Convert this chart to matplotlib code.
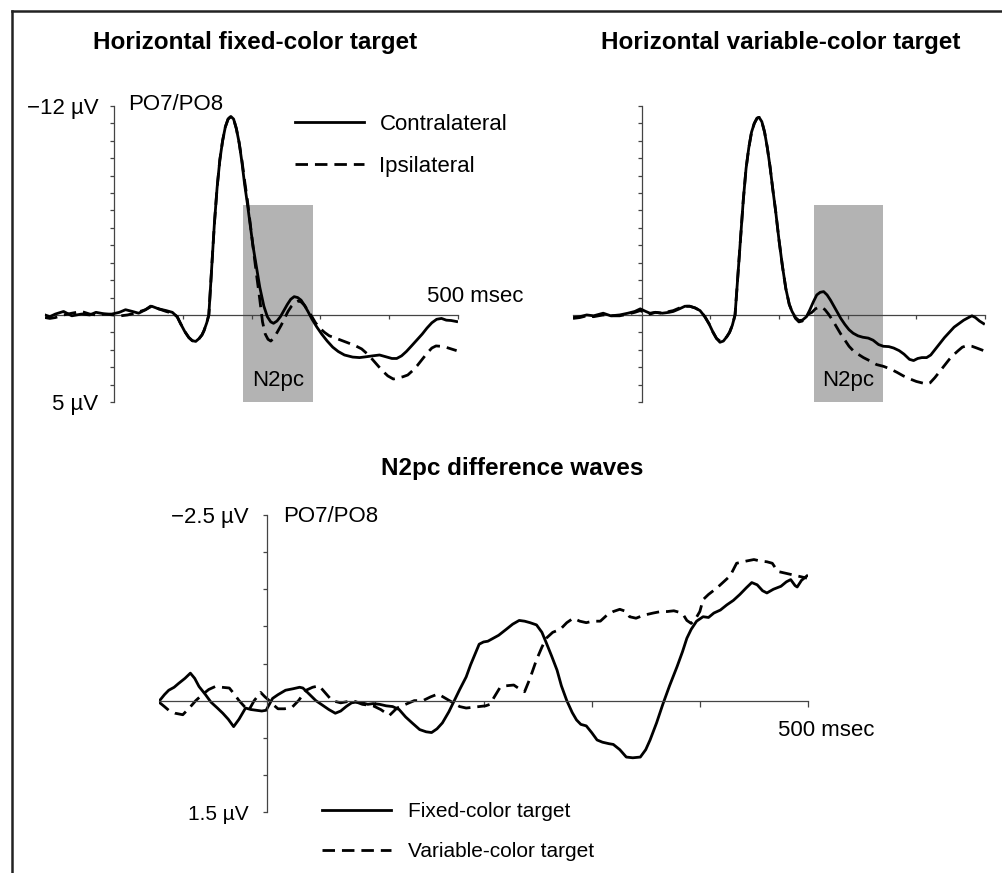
import matplotlib
matplotlib.use("Agg")
import matplotlib.pyplot as plt
from matplotlib.lines import Line2D
from matplotlib.patches import Rectangle

plt.rcParams['font.family'] = ['Liberation Sans', 'DejaVu Sans']

# ---- data (time in msec, amplitude in microvolts, negative up) ----
fixed_contra_t = [-100, -93, -85, -73, -61, -47, -35, -26, -12, -3, 8, 17, 27, 36, 46, 55, 65, 76, 85,
                  92, 97, 103, 109, 114, 119, 124, 128, 131, 135, 138, 142, 146, 150, 154, 158, 162, 166,
                  170, 174, 178, 182, 186, 190, 194, 198, 202, 207, 212, 218, 223, 228, 232, 237, 242,
                  247, 252, 257, 262, 267, 272, 277, 282, 288, 295, 302, 310, 318, 326, 335, 347, 357,
                  367, 376, 386, 395, 404, 411, 418, 425, 432, 440, 448, 455, 462, 469, 476, 483, 490, 498]
fixed_contra_v = [0.0, 0.1, -0.05, -0.2, 0.05, -0.05, 0.0, -0.15, -0.05, -0.05, -0.15, -0.3, -0.2, -0.1,
                  -0.3, -0.5, -0.35, -0.25, -0.15, 0.1, 0.5, 0.95, 1.3, 1.48, 1.52, 1.35, 1.15, 0.9, 0.45,
                  0.0, -2.6, -5.2, -7.3, -8.9, -10.0, -10.8, -11.25, -11.4, -11.25, -10.7, -9.9, -8.8,
                  -7.5, -6.4, -5.2, -4.0, -2.8, -1.6, -0.5, 0.1, 0.4, 0.48, 0.35, 0.1, -0.25, -0.6, -0.9,
                  -1.05, -1.0, -0.85, -0.55, -0.2, 0.25, 0.7, 1.1, 1.5, 1.85, 2.1, 2.3, 2.42, 2.45, 2.4,
                  2.35, 2.3, 2.4, 2.5, 2.5, 2.35, 2.1, 1.8, 1.45, 1.1, 0.75, 0.45, 0.25, 0.2, 0.3, 0.32, 0.38]

fixed_ipsi_t = [-100, -93, -85, -73, -61, -47, -35, -26, -12, 0, 10, 20, 30, 38, 46, 55, 65, 76, 85,
                92, 97, 103, 109, 114, 119, 124, 128, 131, 135, 138, 142, 146, 150, 154, 158, 162, 166,
                170, 174, 178, 182, 186, 190, 194, 198, 202, 207, 212, 216, 220, 224, 228, 233, 238, 243,
                248, 253, 258, 263, 268, 272, 277, 282, 287, 293, 299, 306, 313, 320, 330, 340, 350, 360,
                370, 380, 390, 398, 406, 413, 420, 427, 434, 441, 448, 455, 462, 468, 475, 482, 490, 498]
fixed_ipsi_v = [0.15, 0.2, 0.15, 0.0, -0.1, -0.2, -0.05, 0.0, -0.05, 0.0, 0.05, 0.0, -0.1, -0.2, -0.3,
                -0.55, -0.35, -0.2, -0.1, 0.1, 0.5, 0.95, 1.3, 1.48, 1.52, 1.35, 1.15, 0.9, 0.45, 0.0,
                -2.6, -5.2, -7.3, -8.9, -10.0, -10.8, -11.25, -11.4, -11.25, -10.7, -9.9, -8.9, -7.7,
                -6.6, -5.3, -4.0, -2.4, -0.9, 0.4, 1.1, 1.4, 1.5, 1.3, 0.95, 0.6, 0.2, -0.2, -0.5, -0.7,
                -0.8, -0.75, -0.55, -0.25, 0.05, 0.45, 0.75, 1.0, 1.2, 1.3, 1.45, 1.6, 1.75, 1.95, 2.3,
                2.75, 3.2, 3.5, 3.68, 3.62, 3.55, 3.45, 3.2, 2.9, 2.55, 2.2, 1.9, 1.78, 1.8, 1.85, 1.95, 2.05]

var_contra_t = [-100, -90, -80, -70, -56, -45, -32, -20, -10, -2, 6, 12, 20, 30, 40, 46, 55, 63, 70, 78,
                85, 92, 98, 104, 109, 114, 119, 124, 128, 132, 136, 140, 144, 148, 152, 156, 160, 164,
                168, 171, 175, 179, 183, 187, 191, 195, 200, 205, 210, 215, 219, 224, 229, 234, 240, 245,
                250, 255, 260, 265, 270, 275, 280, 285, 290, 296, 302, 308, 315, 322, 330, 337, 345, 352,
                360, 367, 375, 382, 390, 396, 402, 408, 415, 421, 427, 434, 441, 448, 455, 462, 469, 476,
                481, 486, 492, 498]
var_contra_v = [0.15, 0.1, 0.0, 0.05, -0.1, 0.05, 0.0, -0.1, -0.2, -0.35, -0.2, -0.1, -0.15, -0.1, -0.15,
                -0.2, -0.35, -0.5, -0.5, -0.4, -0.25, 0.1, 0.5, 1.0, 1.35, 1.57, 1.5, 1.25, 1.0, 0.6, 0.0,
                -2.2, -4.4, -6.6, -8.4, -9.6, -10.5, -11.0, -11.3, -11.35, -11.1, -10.5, -9.6, -8.5, -7.2,
                -6.0, -4.3, -2.8, -1.5, -0.6, -0.2, 0.15, 0.32, 0.3, 0.1, -0.3, -0.75, -1.15, -1.3, -1.34,
                -1.15, -0.85, -0.5, -0.15, 0.2, 0.55, 0.85, 1.05, 1.2, 1.28, 1.33, 1.45, 1.7, 1.8, 1.82,
                1.9, 2.05, 2.25, 2.55, 2.62, 2.5, 2.45, 2.45, 2.3, 2.0, 1.65, 1.3, 1.0, 0.7, 0.5, 0.3,
                0.15, 0.05, 0.15, 0.35, 0.5]

var_ipsi_t = [-100, -90, -80, -70, -56, -45, -32, -20, -10, -2, 6, 12, 20, 30, 40, 46, 55, 63, 70, 78,
              85, 92, 98, 104, 109, 114, 119, 124, 128, 132, 136, 140, 144, 148, 152, 156, 160, 164,
              168, 171, 175, 179, 183, 187, 191, 195, 200, 205, 210, 215, 219, 224, 229, 234, 238, 243,
              248, 253, 258, 262, 267, 272, 278, 284, 290, 296, 302, 308, 315, 323, 333, 342, 352, 362,
              372, 381, 391, 400, 408, 415, 420, 427, 435, 442, 448, 454, 461, 467, 474, 481, 488, 498]
var_ipsi_v = [0.2, 0.15, 0.05, 0.1, 0.0, 0.05, 0.05, -0.05, -0.15, -0.25, -0.1, -0.05, -0.15, -0.1, -0.2,
              -0.25, -0.4, -0.5, -0.5, -0.4, -0.25, 0.1, 0.5, 1.0, 1.35, 1.5, 1.45, 1.25, 1.0, 0.6, 0.0,
              -2.2, -4.4, -6.6, -8.4, -9.6, -10.5, -11.0, -11.3, -11.35, -11.1, -10.5, -9.6, -8.5, -7.2,
              -6.0, -4.3, -2.8, -1.5, -0.6, -0.2, 0.2, 0.4, 0.35, 0.15, -0.05, -0.15, -0.35, -0.45,
              -0.45, -0.3, -0.05, 0.3, 0.7, 1.1, 1.45, 1.8, 2.05, 2.25, 2.45, 2.65, 2.85, 2.95, 3.1,
              3.3, 3.5, 3.68, 3.82, 3.9, 3.97, 3.9, 3.6, 3.2, 2.85, 2.55, 2.3, 2.05, 1.85, 1.76, 1.8,
              1.9, 2.05]

diff_fixed_t = [-100, -95, -91, -86, -82, -76, -71, -67, -63, -57, -52, -46, -41, -36, -31, -26, -20, -15,
                -10, -5, -1, 2, 5, 10, 17, 24, 30, 33, 38, 45, 50, 57, 63, 68, 73, 78, 82, 88, 93, 98,
                104, 110, 116, 122, 128, 134, 141, 147, 152, 157, 162, 168, 173, 178, 184, 188, 192,
                196, 200, 204, 209, 214, 221, 227, 233, 238, 243, 249, 254, 258, 263, 268, 272, 277,
                282, 286, 290, 295, 300, 305, 310, 316, 320, 326, 332, 338, 345, 350, 354, 360, 366,
                372, 379, 384, 388, 392, 397, 403, 408, 413, 419, 425, 431, 437, 443, 448, 453, 458,
                462, 468, 475, 480, 484, 488, 490, 494, 499]
diff_fixed_v = [0.01, -0.08, -0.14, -0.18, -0.23, -0.3, -0.37, -0.3, -0.19, -0.08, 0.02, 0.1, 0.17, 0.25,
                0.35, 0.25, 0.1, 0.12, 0.13, 0.14, 0.13, 0.05, -0.03, -0.08, -0.14, -0.16, -0.18, -0.17,
                -0.1, 0.0, 0.05, 0.12, 0.17, 0.14, 0.08, 0.03, 0.02, 0.03, 0.05, 0.04, 0.05, 0.07, 0.08,
                0.12, 0.22, 0.3, 0.39, 0.42, 0.43, 0.38, 0.3, 0.15, 0.0, -0.15, -0.32, -0.48, -0.62,
                -0.76, -0.79, -0.8, -0.84, -0.88, -0.96, -1.03, -1.08, -1.07, -1.05, -1.02, -0.92, -0.78,
                -0.6, -0.41, -0.2, 0.0, 0.16, 0.26, 0.32, 0.34, 0.43, 0.53, 0.56, 0.58, 0.59, 0.66, 0.76,
                0.77, 0.76, 0.66, 0.53, 0.3, 0.04, -0.2, -0.46, -0.66, -0.84, -0.96, -1.07, -1.13, -1.12,
                -1.18, -1.22, -1.29, -1.35, -1.43, -1.52, -1.59, -1.56, -1.48, -1.45, -1.5, -1.54, -1.6,
                -1.63, -1.55, -1.53, -1.62, -1.68]

diff_var_t = [-100, -95, -91, -85, -78, -72, -66, -60, -54, -48, -42, -35, -30, -26, -21, -17, -12, -6,
              -2, 2, 6, 10, 16, 23, 29, 36, 42, 48, 54, 60, 68, 79, 88, 98, 105, 113, 120, 128, 136, 144,
              151, 158, 165, 172, 178, 184, 190, 196, 202, 206, 210, 215, 221, 228, 233, 238, 243, 249,
              254, 258, 264, 271, 277, 283, 289, 295, 301, 308, 314, 320, 326, 332, 335, 341, 348, 357,
              364, 370, 376, 381, 385, 388, 392, 396, 400, 403, 408, 416, 422, 428, 434, 443, 450, 456,
              462, 467, 472, 478, 484, 490, 496, 499]
diff_var_v = [0.02, 0.08, 0.13, 0.17, 0.19, 0.1, 0.0, -0.08, -0.15, -0.19, -0.18, -0.17, -0.08, 0.0, 0.08,
              0.13, 0.0, -0.11, -0.05, 0.0, 0.06, 0.11, 0.11, 0.09, 0.0, -0.14, -0.18, -0.2, -0.1, 0.0,
              0.03, 0.0, 0.05, 0.07, 0.12, 0.2, 0.1, 0.05, 0.0, 0.0, -0.05, -0.09, -0.03, 0.03, 0.08, 0.1,
              0.09, 0.08, 0.07, 0.05, -0.05, -0.17, -0.2, -0.21, -0.16, -0.12, -0.3, -0.55, -0.72, -0.84,
              -0.92, -0.96, -1.05, -1.11, -1.07, -1.05, -1.07, -1.07, -1.15, -1.2, -1.23, -1.2, -1.13,
              -1.11, -1.15, -1.18, -1.2, -1.2, -1.21, -1.19, -1.15, -1.08, -1.04, -1.1, -1.2, -1.36,
              -1.43, -1.52, -1.6, -1.68, -1.85, -1.88, -1.9, -1.88, -1.87, -1.85, -1.74, -1.72, -1.7,
              -1.68, -1.66, -1.65]

n2pc_fixed = (188, 289)
n2pc_variable = (251, 351)
n2pc_top = -6.3

W, H = 1002, 873
fig = plt.figure(figsize=(W / 100, H / 100), dpi=100)


def box(l, t, r, b):
    return [l / W, 1 - b / H, (r - l) / W, (b - t) / H]


def px(x, y):
    return x / W, 1 - y / H


AX_COL = '#444444'
FS = 16
dash = (0, (4.5, 2.5))


def setup(ax, ylim, yticks, ylabels, ticklen, xticklen, pad):
    ax.set_xlim(-100, 500)
    ax.set_ylim(*ylim)
    for s in ['top', 'right']:
        ax.spines[s].set_visible(False)
    ax.spines['left'].set_position(('data', 0))
    ax.spines['bottom'].set_position(('data', 0))
    for s in ['left', 'bottom']:
        ax.spines[s].set_color(AX_COL)
        ax.spines[s].set_linewidth(0.9)
    ax.set_yticks(yticks)
    ax.set_yticklabels(ylabels, fontsize=FS)
    ax.set_xticks([100, 200, 300, 400, 500])
    ax.set_xticklabels([])
    ax.tick_params(axis='y', direction='out', length=ticklen, width=0.9, color=AX_COL, pad=pad)
    ax.tick_params(axis='x', direction='out', length=xticklen, width=0.9, color=AX_COL)
    ax.patch.set_visible(False)


top_ticks = list(range(-12, 6))
top_labels = ['\u221212 \u00b5V'] + [''] * 16 + ['5 \u00b5V']

# top-left panel
ax1 = fig.add_axes(box(45, 106, 458, 402))
setup(ax1, (5, -12), top_ticks, top_labels, 3, 3, 8)
ax1.add_patch(Rectangle((n2pc_fixed[0], n2pc_top), n2pc_fixed[1] - n2pc_fixed[0], 5 - n2pc_top,
                        color='#b3b3b3', lw=0, zorder=0))
ax1.plot(fixed_contra_t, fixed_contra_v, color='black', lw=2, label='Contralateral', zorder=3)
ax1.plot(fixed_ipsi_t, fixed_ipsi_v, color='black', lw=2, ls=dash, label='Ipsilateral', zorder=3)
ax1.text(sum(n2pc_fixed) / 2, 3.75, 'N2pc', ha='center', va='center', fontsize=FS)
ax1.legend(loc='upper left', bbox_to_anchor=px(295, 114), bbox_transform=fig.transFigure,
           frameon=False, fontsize=FS, handlelength=3.1, handletextpad=0.7, labelspacing=0.95,
           borderpad=0, borderaxespad=0)

# top-right panel
ax2 = fig.add_axes(box(573, 106, 985, 402))
setup(ax2, (5, -12), top_ticks, [''] * 18, 3, 3, 8)
ax2.add_patch(Rectangle((n2pc_variable[0], n2pc_top), n2pc_variable[1] - n2pc_variable[0], 5 - n2pc_top,
                        color='#b3b3b3', lw=0, zorder=0))
ax2.plot(var_contra_t, var_contra_v, color='black', lw=2, zorder=3)
ax2.plot(var_ipsi_t, var_ipsi_v, color='black', lw=2, ls=dash, zorder=3)
ax2.text(sum(n2pc_variable) / 2, 3.75, 'N2pc', ha='center', va='center', fontsize=FS)

# bottom panel
ax3 = fig.add_axes(box(159, 515, 808, 812))
bot_ticks = [-2.5, -2.0, -1.5, -1.0, -0.5, 0, 0.5, 1.0, 1.5]
bot_labels = ['\u22122.5 \u00b5V'] + [''] * 7 + ['1.5 \u00b5V']
setup(ax3, (1.5, -2.5), bot_ticks, bot_labels, 3, 4.5, 10)
ax3.get_yticklabels()[-1].set_fontsize(15)
ax3.plot(diff_fixed_t, diff_fixed_v, color='black', lw=2, label='Fixed-color target')
ax3.plot(diff_var_t, diff_var_v, color='black', lw=2, ls=dash, label='Variable-color target')
ax3.legend(loc='upper left', bbox_to_anchor=px(322, 802), bbox_transform=fig.transFigure,
           frameon=False, fontsize=15, handlelength=3.3, handletextpad=0.85, labelspacing=1.0,
           borderpad=0, borderaxespad=0)

# texts
fig.text(*px(255, 42), 'Horizontal fixed-color target', ha='center', va='center',
         fontsize=17.5, fontweight='bold')
fig.text(*px(781, 42), 'Horizontal variable-color target', ha='center', va='center',
         fontsize=17.5, fontweight='bold')
fig.text(*px(512, 469), 'N2pc difference waves', ha='center', va='center',
         fontsize=17.5, fontweight='bold')
fig.text(*px(128, 105), 'PO7/PO8', ha='left', va='center', fontsize=FS)
fig.text(*px(283, 517), 'PO7/PO8', ha='left', va='center', fontsize=FS)
fig.text(*px(427, 296), '500 msec', ha='left', va='center', fontsize=FS)
fig.text(*px(778, 731), '500 msec', ha='left', va='center', fontsize=FS)

# frame lines (top and left edge of the figure panel)
fig.add_artist(Line2D([12 / W, 1], [1 - 11 / H, 1 - 11 / H], transform=fig.transFigure,
                      color='#222222', lw=1.8))
fig.add_artist(Line2D([12 / W, 12 / W], [0, 1 - 11 / H], transform=fig.transFigure,
                      color='#222222', lw=1.8))

fig.savefig('out.png', dpi=100)
